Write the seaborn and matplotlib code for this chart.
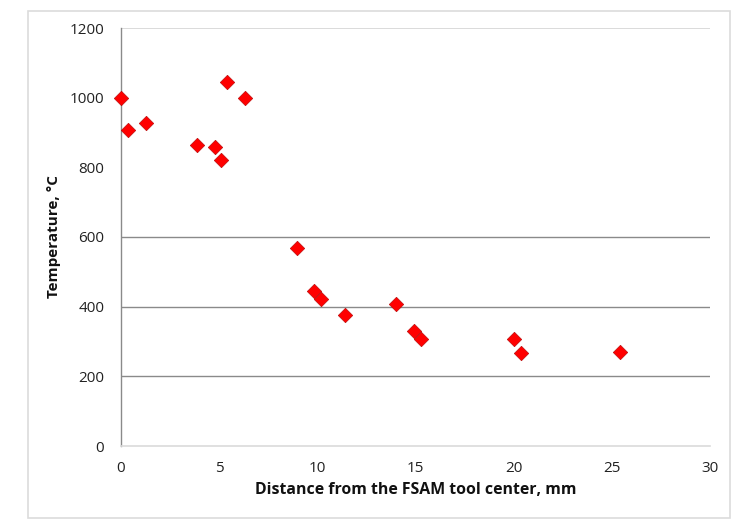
import matplotlib
matplotlib.use("Agg")
import matplotlib.pyplot as plt
import seaborn as sns
import pandas as pd
from matplotlib.patches import Rectangle

distance_mm = [0.0, 0.34, 1.26, 3.86, 4.78, 5.07, 5.39, 6.33, 8.94, 9.81,
               10.19, 11.43, 14.01, 14.91, 15.26, 20.02, 20.36, 25.42]
temperature_c = [1000, 907, 926, 864, 858, 822, 1046, 1000, 568, 446,
                 423, 377, 407, 331, 306, 308, 266, 271]

x_ticks = [0, 5, 10, 15, 20, 25, 30]
y_ticks = [0, 200, 400, 600, 800, 1000, 1200]
visible_grid = [200, 400, 600]

df = pd.DataFrame({"Distance": distance_mm, "Temperature": temperature_c})

sns.set_theme(style="white")
plt.rcParams["font.family"] = ["Open Sans", "DejaVu Sans"]

W, H = 754, 523
fig = plt.figure(figsize=(W / 100, H / 100), dpi=100)
ax = fig.add_axes([121 / W, (H - 446) / H, (710 - 121) / W, (446 - 28) / H])

# chart border
fig.patches.append(Rectangle((28 / W, (H - 518) / H), (730 - 28) / W, (518 - 11) / H,
                             transform=fig.transFigure, fill=False,
                             edgecolor="#dcdcdc", linewidth=1.2, zorder=0))

for g in visible_grid:
    ax.axhline(g, color="#8a8a8a", linewidth=1.0, zorder=1)
ax.axhline(1200, color="#d4d4d4", linewidth=1.2, zorder=1)

sns.scatterplot(data=df, x="Distance", y="Temperature", ax=ax, marker="D",
                s=55, color="#ff0000", edgecolor="#b00000", linewidth=0.4,
                zorder=3, clip_on=False)

ax.set_xlim(0, 30)
ax.set_ylim(0, 1200)
ax.set_xticks(x_ticks)
ax.set_yticks(y_ticks)
ax.tick_params(axis="both", length=0, labelsize=11, colors="#222222")
ax.tick_params(axis="y", pad=12)
ax.tick_params(axis="x", pad=11)

for s in ["top", "right"]:
    ax.spines[s].set_visible(False)
ax.spines["left"].set_color("#8a8a8a")
ax.spines["left"].set_linewidth(1.0)
ax.spines["bottom"].set_color("#dadada")
ax.spines["bottom"].set_linewidth(1.2)

ax.set_xlabel("Distance from the FSAM tool center, mm", fontsize=11.4,
              fontweight="bold", color="#111111", labelpad=4)
ax.set_ylabel("Temperature, °C", fontsize=11, fontweight="bold",
              color="#111111", labelpad=6)

fig.savefig("out.png", dpi=100)
